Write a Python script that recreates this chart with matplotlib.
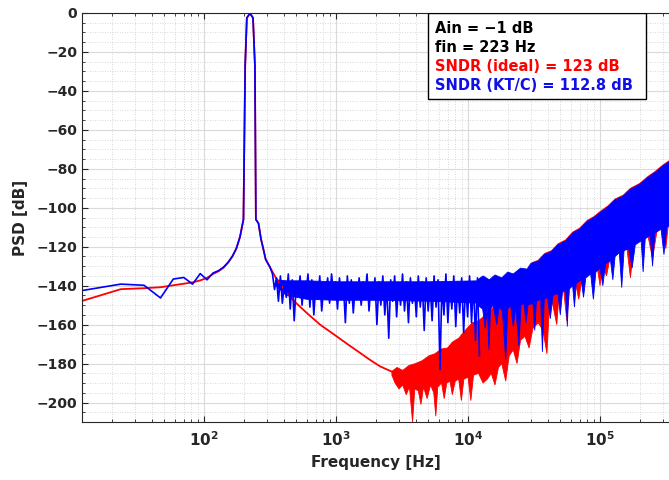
import numpy as np
import matplotlib.pyplot as plt
from matplotlib.ticker import FixedLocator, LogLocator, MultipleLocator, FuncFormatter, NullFormatter
from matplotlib.patches import Rectangle

plt.rcParams['font.family'] = 'DejaVu Sans'
plt.rcParams['font.weight'] = 'bold'

RED = '#ff0000'
BLUE = '#0000ff'

# ideal quantizer: smooth part up to where the noise floor starts
red_f = [11.7, 23.4, 35.1, 46.8, 58.5, 70.2, 81.9, 93.6, 105.3, 117, 128.7, 140.4, 152.1, 163.8,
         175.5, 187.2, 198.9, 205, 211, 223, 235, 243, 247, 258.5, 270, 281, 293, 304, 316, 350,
         380, 423, 500, 600, 757, 1010, 1250, 1520, 1800, 2150, 2700]
red_db = [-148, -141.8, -141.3, -140.8, -139.8, -139, -138.3, -137.3, -136, -134, -132.6, -130.8,
          -128.2, -125, -121, -115, -106, -27, -2.5, -0.2, -2.5, -27, -106, -108, -116, -121,
          -126.5, -128.5, -130.5, -136, -139.5, -143.7, -149, -154, -160, -166, -170.5, -174.5,
          -178, -181.4, -184.4]

# ideal: noise band, upper and lower edge (f, dB)
red_hi = [(2650, -184), (2900, -182), (3200, -183.5), (3570, -181), (4000, -180), (4500, -178.5),
          (5060, -176), (5600, -175), (6300, -172.5), (7000, -172), (7600, -169), (8500, -167),
          (9500, -163), (10800, -159), (12000, -158), (13600, -155), (15000, -152), (17000, -149),
          (20000, -145), (24000, -139), (28000, -133), (31000, -128), (34000, -127), (38000, -123.5),
          (43000, -122), (48000, -118.5), (55000, -116.5), (62000, -112.5), (70000, -110.5),
          (80000, -106.5), (90000, -104.5), (100000, -102), (115000, -99), (130000, -95.5),
          (150000, -93.5), (170000, -90), (200000, -87.5), (230000, -84), (260000, -81.5),
          (300000, -78), (340000, -75.5)]
red_lo = [(2650, -186), (2800, -190), (3000, -193), (3200, -191), (3400, -196), (3600, -192),
          (3800, -210), (3950, -193), (4200, -194), (4400, -201), (4600, -192), (4900, -198),
          (5200, -191), (5500, -195), (5700, -207), (5900, -192), (6300, -190), (6600, -198),
          (6900, -190), (7300, -189), (7600, -196), (8000, -189), (8500, -188), (8900, -199),
          (9300, -188), (10000, -187), (10500, -199), (11000, -186), (12000, -185), (13000, -190),
          (14000, -188), (15000, -185), (16000, -191), (17000, -182), (18000, -180), (19300, -189),
          (20500, -176), (22000, -173), (23500, -180), (25000, -168), (27000, -166), (29000, -172),
          (31000, -162), (34000, -159), (37000, -163), (39600, -175), (41000, -155), (43000, -147),
          (47000, -160), (49000, -144), (53000, -142), (56000, -158), (59000, -141), (65000, -138),
          (69000, -147), (73000, -136), (85000, -132), (95000, -130), (100000, -140),
          (104000, -129), (112000, -135), (118000, -127), (140000, -123), (160000, -121),
          (170000, -136), (180000, -119), (200000, -117), (230000, -114), (250000, -126),
          (270000, -112), (300000, -110), (315000, -121), (330000, -108), (340000, -107)]

# KT/C noise: smooth part
blue_f = [11.7, 23.4, 35.1, 46.8, 58.5, 70.2, 81.9, 93.6, 105.3, 117, 128.7, 140.4, 152.1, 163.8,
          175.5, 187.2, 198.9, 205, 211, 223, 235, 243, 247, 258.5, 270, 281, 293, 304, 316]
blue_db = [-142.6, -139.2, -139.8, -146.3, -136.6, -135.8, -139.2, -133.8, -137, -133.5, -132.3,
           -130.5, -128, -125, -121, -115, -106, -27, -2.5, -0.2, -2.5, -27, -106, -108, -116,
           -121, -126.5, -128.5, -130.5]

# KT/C: flat noise floor
blue_nz_f = [330, 342, 354, 366, 379, 392, 406, 420, 435, 450, 466, 482, 499, 516, 534, 553, 572,
             592, 613, 634, 656, 679, 703, 728, 753, 779, 807, 835, 864, 894, 925, 958, 991, 1026,
             1062, 1099, 1137, 1177, 1218, 1261, 1305, 1351, 1398, 1447, 1497, 1550, 1604, 1660,
             1718, 1778, 1840, 1905, 1971, 2040, 2112, 2185, 2262, 2341, 2423, 2508, 2595, 2686,
             2780, 2877, 2978, 3082, 3190, 3302, 3417, 3537, 3660, 3788, 3921, 4058, 4200, 4347,
             4499, 4657, 4819, 4988, 5163, 5343, 5530, 5724, 5924, 6131, 6346, 6568, 6798, 7036,
             7282, 7537, 7800, 8073, 8356, 8648, 8951, 9264, 9589, 9924, 10272, 10631, 11003,
             11388, 11787, 12199]
blue_nz_db = [-134, -142, -136, -148, -135, -149, -139, -146, -134, -152, -137, -158, -140, -145,
              -135, -150, -138, -144, -134, -151, -137, -155, -139, -147, -135, -153, -140, -145,
              -136, -149, -134, -144, -138, -152, -136, -147, -139, -159, -135, -149, -137, -154,
              -140, -146, -136, -150, -138, -145, -134, -153, -139, -147, -136, -160, -138, -150,
              -135, -155, -140, -167, -137, -148, -135, -156, -139, -150, -134, -153, -138, -159,
              -136, -149, -140, -156, -135, -151, -138, -163, -136, -153, -139, -158, -135, -151,
              -137, -183, -139, -155, -134, -159, -138, -152, -135, -161, -138, -154, -136, -164,
              -138, -156, -135, -159, -138, -168, -136, -176]
blue_core_f = [350, 420, 600, 1000, 2000, 5000, 12200]
blue_core_hi = [-137, -137.5, -137.5, -138, -138, -138, -137.5]
blue_core_lo = [-140, -145, -147, -147.5, -147.5, -148, -149]

# KT/C: dense band at high frequency
blue_hi = [(11800, -137), (13000, -135), (14500, -137), (16000, -134.5), (18000, -136),
           (20000, -133), (22000, -134), (25000, -131), (28000, -131.5), (30000, -128.5),
           (34000, -127.5), (38000, -124), (43000, -122.5), (48000, -119), (55000, -117),
           (62000, -113), (70000, -111), (80000, -107), (90000, -105), (100000, -102.5),
           (115000, -99.5), (130000, -96), (150000, -94), (170000, -90.5), (200000, -88),
           (230000, -84.5), (260000, -82), (300000, -78.5), (340000, -76)]
blue_lo = [(11800, -150), (12900, -152), (13500, -162), (14000, -151), (14400, -173), (14800, -152),
           (15500, -150), (16500, -160), (17200, -151), (18200, -153), (19300, -178), (20000, -152),
           (21000, -150), (22000, -161), (23000, -151), (24300, -171), (25200, -150), (26500, -149),
           (27500, -159), (28500, -150), (31000, -149), (32000, -163), (33000, -148), (35500, -147),
           (36600, -174), (37800, -147), (40000, -146), (42000, -157), (44000, -145), (48000, -144),
           (50000, -155), (52000, -143), (55000, -143), (56500, -161), (58000, -142), (62000, -140),
           (64000, -151), (66000, -139), (72000, -137), (75000, -146), (78000, -136), (85000, -134),
           (89000, -147), (93000, -133), (100000, -131), (105000, -140), (110000, -129),
           (120000, -127), (125000, -137), (130000, -125), (140000, -123), (146000, -141),
           (152000, -122), (165000, -121), (175000, -131), (185000, -119), (205000, -117),
           (212000, -133), (220000, -116), (240000, -114), (250000, -130), (260000, -113),
           (290000, -111), (305000, -124), (320000, -110), (340000, -109)]

info_lines = ['Ain = \u22121 dB', 'fin = 223 Hz', 'SNDR (ideal) = 123 dB', 'SNDR (KT/C) = 112.8 dB']
info_colors = ['black', 'black', RED, '#1010e6']


def band(ax, hi, lo, color):
    hf, hd = np.array(hi).T
    lf, ld = np.array(lo).T
    ax.fill(np.r_[hf, lf[::-1]], np.r_[hd, ld[::-1]], color=color, lw=0.6)


fig = plt.figure(figsize=(6.69, 4.8), dpi=100)
ax = fig.add_axes([82 / 669, 58 / 480, 587 / 669, 409 / 480])

ax.plot(red_f, red_db, color=RED, lw=1.3)
band(ax, red_hi, red_lo, RED)

ax.fill(np.r_[blue_core_f, blue_core_f[::-1]], np.r_[blue_core_hi, blue_core_lo[::-1]],
        color=BLUE, lw=0.6)
ax.plot(np.r_[blue_f, blue_nz_f], np.r_[blue_db, blue_nz_db], color=BLUE, lw=1.2)
band(ax, blue_hi, blue_lo, BLUE)

ax.set_xscale('log')
ax.set_xlim(11.9, 3.33e5)
ax.set_ylim(-210, 0)

ax.set_yticks(np.arange(-200, 1, 20))
ax.yaxis.set_minor_locator(MultipleLocator(5))
ax.xaxis.set_major_locator(FixedLocator([1e2, 1e3, 1e4, 1e5]))
ax.xaxis.set_major_formatter(FuncFormatter(lambda v, p: r'$\mathbf{10^{%d}}$' % round(np.log10(v))))
ax.xaxis.set_minor_locator(LogLocator(base=10, subs=np.arange(2, 10), numticks=30))
ax.xaxis.set_minor_formatter(NullFormatter())

ax.tick_params(which='both', direction='in', top=True, right=False, colors='#262626')
ax.tick_params(which='major', length=4, labelsize=10)
ax.tick_params(which='minor', length=2.5)
ax.tick_params(axis='x', which='major', labelsize=11, pad=6)

ax.grid(which='major', color='#dadada', lw=0.8)
ax.grid(which='minor', color='#cccccc', lw=0.6, ls=(0, (1, 2)))
ax.set_axisbelow(True)

ax.spines['right'].set_visible(False)
for s in ['left', 'bottom', 'top']:
    ax.spines[s].set_color('#262626')
    ax.spines[s].set_linewidth(0.8)

ax.set_xlabel('Frequency [Hz]', fontsize=11, fontweight='bold', color='#262626')
ax.set_ylabel('PSD [dB]', fontsize=11, fontweight='bold', color='#262626', labelpad=6)

ax.add_patch(Rectangle((0.5894, 0.7897), 0.3714, 0.2103, transform=ax.transAxes,
                       facecolor='white', edgecolor='black', lw=1.0, zorder=5))
for i, (txt, c) in enumerate(zip(info_lines, info_colors)):
    ax.text(0.6014, 0.9616 - i * 0.0464, txt, transform=ax.transAxes, color=c,
            fontsize=10.5, fontweight='bold', va='center', ha='left', zorder=6)

fig.savefig('out.png', dpi=100)
